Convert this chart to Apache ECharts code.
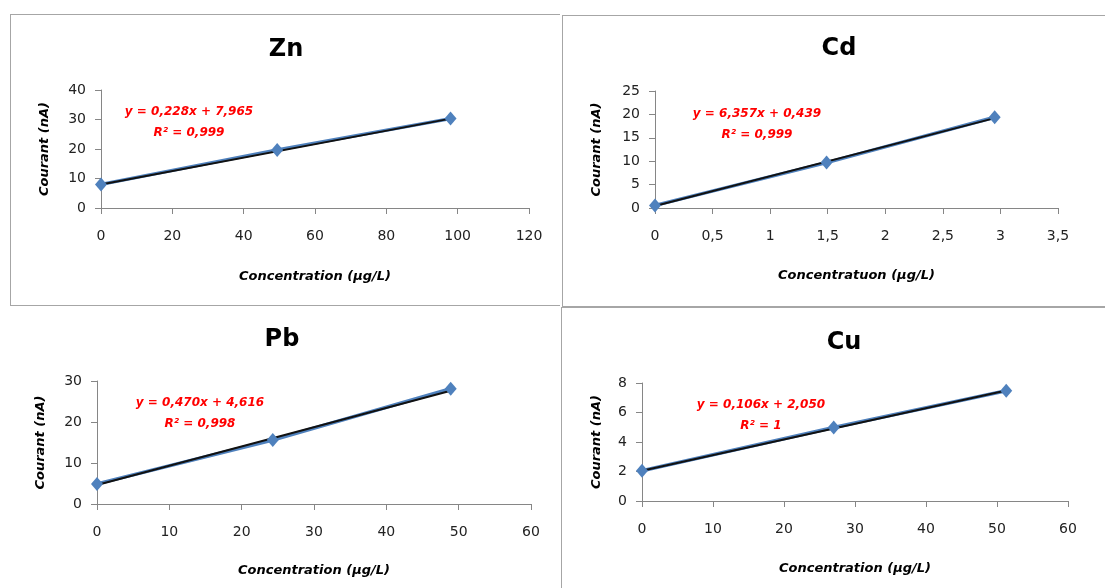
<!DOCTYPE html>
<html>
<head>
<meta charset="utf-8">
<script src="https://cdn.jsdelivr.net/npm/echarts@6/dist/echarts.min.js"></script>
<style>
	body { margin: 0; background: #fff; }
	.box { position: absolute; box-sizing: border-box; }
	#zn { left: 10px; top: 14px; width: 550px; height: 292px; border: 1px solid #a6a6a6; border-right: none; }
	#cd { left: 562px; top: 15px; width: 543px; height: 292px; border: 1px solid #a6a6a6; border-right: none; }
	#pb { left: 0px; top: 306px; width: 560px; height: 282px; }
	#cu { left: 561px; top: 307px; width: 544px; height: 281px; border-left: 1px solid #a6a6a6; border-top: 1px solid #a6a6a6; }
</style>
</head>
<body>
<div class="box" id="zn"></div>
<div class="box" id="cd"></div>
<div class="box" id="pb"></div>
<div class="box" id="cu"></div>
<script>
// points
var znX = [0, 49.4, 98];
var znY = [8.0, 19.7, 30.3];
var znTrend = [[0, 7.97], [98, 30.3]];
var cdX = [0, 1.49, 2.95];
var cdY = [0.56, 9.7, 19.4];
var cdTrend = [[0, 0.44], [2.95, 19.2]];
var pbX = [0, 24.3, 48.9];
var pbY = [4.9, 15.6, 28.1];
var pbTrend = [[0, 4.62], [48.9, 27.6]];
var cuX = [0, 27.0, 51.3];
var cuY = [2.05, 4.98, 7.47];
var cuTrend = [[0, 2.05], [51.3, 7.49]];

var fontFam = '"DejaVu Sans", sans-serif';

function makeChart(id, cfg) {
	var myChart = echarts.init(document.getElementById(id));
	var pts = cfg.x.map(function(v, i) { return [v, cfg.y[i]]; });
	var eqStyle = function(txt, x, y) {
		return {
			type: 'text', x: x, y: y,
			style: {
				text: txt, textAlign: 'center', textVerticalAlign: 'middle',
				fill: '#ff0000', font: 'italic bold 12px ' + fontFam
			}
		};
	};
	var option = {
		animation: false,
		grid: cfg.grid,
		xAxis: {
			type: 'value',
			min: 0, max: cfg.xMax, interval: cfg.xStep,
			name: cfg.xName,
			nameLocation: 'middle',
			nameGap: cfg.xNameGap,
			nameTextStyle: { fontFamily: fontFam, fontStyle: 'italic', fontWeight: 'bold', fontSize: 13, color: '#000' },
			splitLine: { show: false },
			axisLine: { lineStyle: { color: '#868686', width: 1 } },
			axisTick: { show: true, length: 6, lineStyle: { color: '#868686' } },
			axisLabel: {
				margin: 21, fontFamily: fontFam, fontSize: 14, color: '#222',
				formatter: function(v) { return String(v).replace('.', ','); }
			}
		},
		yAxis: {
			type: 'value',
			min: 0, max: cfg.yMax, interval: cfg.yStep,
			name: 'Courant (nA)',
			nameLocation: 'middle',
			nameGap: cfg.yNameGap,
			nameTextStyle: { fontFamily: fontFam, fontStyle: 'italic', fontWeight: 'bold', fontSize: 13, color: '#000' },
			splitLine: { show: false },
			axisLine: { show: true, lineStyle: { color: '#868686', width: 1 } },
			axisTick: { show: true, length: 6, lineStyle: { color: '#868686' } },
			axisLabel: { margin: 15, fontFamily: fontFam, fontSize: 14, color: '#222' }
		},
		graphic: [{
			type: 'text', x: cfg.titleX, y: cfg.titleY,
			style: {
				text: cfg.title, textAlign: 'center', textVerticalAlign: 'middle',
				fill: '#000', font: 'bold 24px ' + fontFam
			}
		},
			eqStyle(cfg.eq, cfg.eqX, cfg.eqY),
			eqStyle(cfg.r2, cfg.eqX, cfg.eqY + 21)
		],
		series: [{
			type: 'line',
			data: pts,
			symbol: 'diamond',
			symbolSize: [12, 14],
			lineStyle: { color: '#4f81bd', width: 3.5 },
			itemStyle: { color: '#4f81bd' }
		}, {
			type: 'line',
			data: cfg.trend,
			symbol: 'none',
			lineStyle: { color: '#111', width: 2 }
		}]
	};
	myChart.setOption(option);
}

makeChart('zn', {
	title: 'Zn', titleX: 275, titleY: 35,
	x: znX, y: znY, trend: znTrend,
	xMax: 120, xStep: 20, yMax: 40, yStep: 10,
	grid: { left: 90, right: 31, top: 75, bottom: 97 },
	xName: 'Concentration (µg/L)', xNameGap: 62,
	yNameGap: 50,
	eq: 'y = 0,228x + 7,965', r2: 'R² = 0,999', eqX: 178, eqY: 97
});

makeChart('cd', {
	title: 'Cd', titleX: 276, titleY: 33,
	x: cdX, y: cdY, trend: cdTrend,
	xMax: 3.5, xStep: 0.5, yMax: 25, yStep: 5,
	grid: { left: 92, right: 47, top: 75, bottom: 98 },
	xName: 'Concentratuon (µg/L)', xNameGap: 61,
	yNameGap: 52,
	eq: 'y = 6,357x + 0,439', r2: 'R² = 0,999', eqX: 194, eqY: 98
});

makeChart('pb', {
	title: 'Pb', titleX: 282, titleY: 34,
	x: pbX, y: pbY, trend: pbTrend,
	xMax: 60, xStep: 10, yMax: 30, yStep: 10,
	grid: { left: 97, right: 29, top: 75, bottom: 84 },
	xName: 'Concentration (µg/L)', xNameGap: 60,
	yNameGap: 50,
	eq: 'y = 0,470x + 4,616', r2: 'R² = 0,998', eqX: 200, eqY: 97
});

makeChart('cu', {
	title: 'Cu', titleX: 282, titleY: 35,
	x: cuX, y: cuY, trend: cuTrend,
	xMax: 60, xStep: 10, yMax: 8, yStep: 2,
	grid: { left: 80, right: 37, top: 75, bottom: 87 },
	xName: 'Concentration (µg/L)', xNameGap: 61,
	yNameGap: 39,
	eq: 'y = 0,106x + 2,050', r2: 'R² = 1', eqX: 199, eqY: 97
});
</script>
</body>
</html>
